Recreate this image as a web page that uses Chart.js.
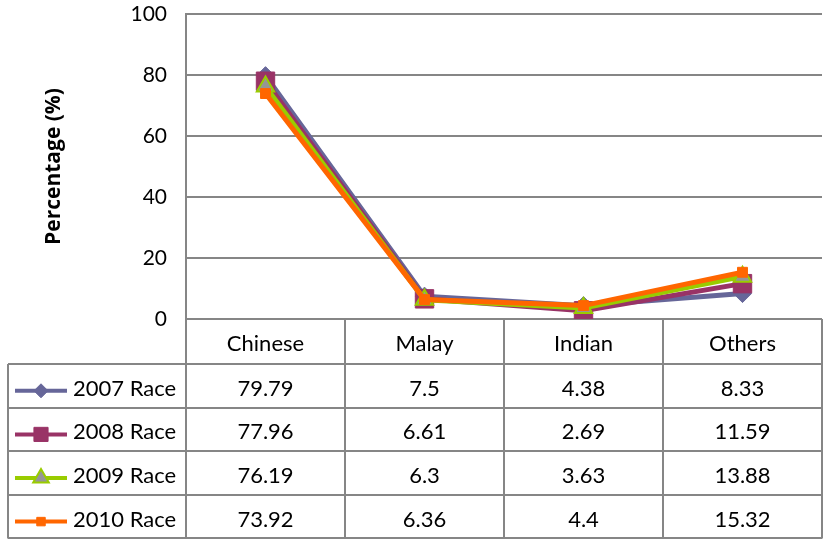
<!DOCTYPE html>
<html>
<head>
<meta charset="utf-8">
<script src="https://cdn.jsdelivr.net/npm/chart.js@4"></script>
<style>
  body { margin: 0; overflow: hidden; background: #fff; }
  #wrap { width: 828px; height: 539px; overflow: hidden; }
</style>
</head>
<body>
<div id="wrap"><canvas id="myChart" width="836" height="539"></canvas></div>
<script>
const categories = ['Chinese', 'Malay', 'Indian', 'Others'];
const seriesNames = ['2007 Race', '2008 Race', '2009 Race', '2010 Race'];
const race2007 = [79.79, 7.5, 4.38, 8.33];
const race2008 = [77.96, 6.61, 2.69, 11.59];
const race2009 = [76.19, 6.3, 3.63, 13.88];
const race2010 = [73.92, 6.36, 4.4, 15.32];
const yTicks = [0, 20, 40, 60, 80, 100];

const gridColor = '#868686';
const fontName = 'Lato';

const styles = [
  { color: '#666699', fill: '#666699', point: 'rectRot', r: 9, key: 7, bw: 1 },
  { color: '#993366', fill: '#993366', point: 'rect', r: 13, key: 10, bw: 1 },
  { color: '#99CC00', fill: '#969696', point: 'triangle', r: 10, key: 9, bw: 2 },
  { color: '#FF6600', fill: '#FF6600', point: 'rect', r: 7, key: 6, bw: 1 }
];
const allData = [race2007, race2008, race2009, race2010];

const datasets = allData.map(function (d, i) {
  return {
    label: seriesNames[i],
    data: d,
    borderColor: styles[i].color,
    backgroundColor: styles[i].fill,
    pointBorderColor: styles[i].color,
    pointBackgroundColor: styles[i].fill,
    pointStyle: styles[i].point,
    pointRadius: styles[i].r,
    pointBorderWidth: styles[i].bw,
    borderWidth: 5,
    tension: 0,
    order: 4 - i
  };
});

// draws the data table under the plot, Excel style
const tablePlugin = {
  id: 'dataTable',
  afterDraw(chart) {
    const ctx = chart.ctx;
    const xs = chart.scales.x;
    const area = chart.chartArea;
    const half = (xs.getPixelForValue(1) - xs.getPixelForValue(0)) / 2;
    const headTop = area.bottom;
    const headBottom = headTop + 45;
    const rowH = 43.6;
    const tableLeft = 8;
    const tableBottom = headBottom + rowH * 4;

    ctx.save();
    ctx.strokeStyle = gridColor;
    ctx.lineWidth = 2;
    ctx.beginPath();
    // column separators
    for (let c = 0; c <= categories.length; c++) {
      const x = Math.round(xs.getPixelForValue(c) - half);
      ctx.moveTo(x, headTop);
      ctx.lineTo(x, tableBottom);
    }
    ctx.moveTo(tableLeft, headBottom);
    ctx.lineTo(tableLeft, tableBottom);
    for (let r = 0; r <= 4; r++) {
      const y = Math.round(headBottom + rowH * r);
      ctx.moveTo(tableLeft, y);
      ctx.lineTo(area.right, y);
    }
    ctx.stroke();

    ctx.fillStyle = '#000';
    ctx.font = '22px ' + fontName;
    ctx.textAlign = 'center';
    ctx.textBaseline = 'middle';
    categories.forEach(function (cat, c) {
      ctx.fillText(cat, xs.getPixelForValue(c), (headTop + headBottom) / 2 + 2);
    });

    allData.forEach(function (d, r) {
      const cy = headBottom + rowH * r + rowH / 2 + 3;
      ctx.textAlign = 'center';
      ctx.fillStyle = '#000';
      d.forEach(function (v, c) {
        ctx.fillText(String(v), xs.getPixelForValue(c), cy);
      });
      // legend key
      const st = styles[r];
      ctx.strokeStyle = st.color;
      ctx.lineWidth = 4;
      ctx.beginPath();
      ctx.moveTo(15, cy + 2);
      ctx.lineTo(67, cy + 2);
      ctx.stroke();
      ctx.fillStyle = st.fill;
      ctx.strokeStyle = st.color;
      ctx.lineWidth = st.bw;
      Chart.helpers.drawPoint(ctx, { pointStyle: st.point, radius: st.key, rotation: 0, borderWidth: st.bw }, 41, cy + 2);
      ctx.fillStyle = '#000';
      ctx.textAlign = 'left';
      ctx.fillText(seriesNames[r], 73, cy);
    });
    ctx.restore();
  }
};

const config = {
  type: 'line',
  data: { labels: categories, datasets: datasets },
  options: {
    responsive: false,
    animation: false,
    layout: { padding: { top: 14, right: 0, bottom: 220, left: 0 } },
    plugins: { legend: { display: false }, tooltip: { enabled: false } },
    scales: {
      x: { display: false, offset: true },
      y: {
        min: 0,
        max: 100,
        afterFit: function (scale) {
          scale.width = 186;
          scale.paddingTop = 0;
          scale.paddingBottom = 0;
        },
        afterBuildTicks: function (scale) {
          scale.ticks = yTicks.map(function (v) { return { value: v }; });
        },
        grid: { color: gridColor, lineWidth: 2, drawTicks: false },
        border: { color: gridColor, width: 2 },
        ticks: { color: '#000', padding: 19, font: { family: fontName, size: 21 } },
        title: {
          display: true,
          text: 'Percentage (%)',
          color: '#000',
          padding: { top: 41, bottom: 0 },
          font: { family: 'Open Sans', size: 21, weight: 'bold' }
        }
      }
    }
  },
  plugins: [tablePlugin]
};

var myChart = new Chart(document.getElementById('myChart'), config);
</script>
</body>
</html>
